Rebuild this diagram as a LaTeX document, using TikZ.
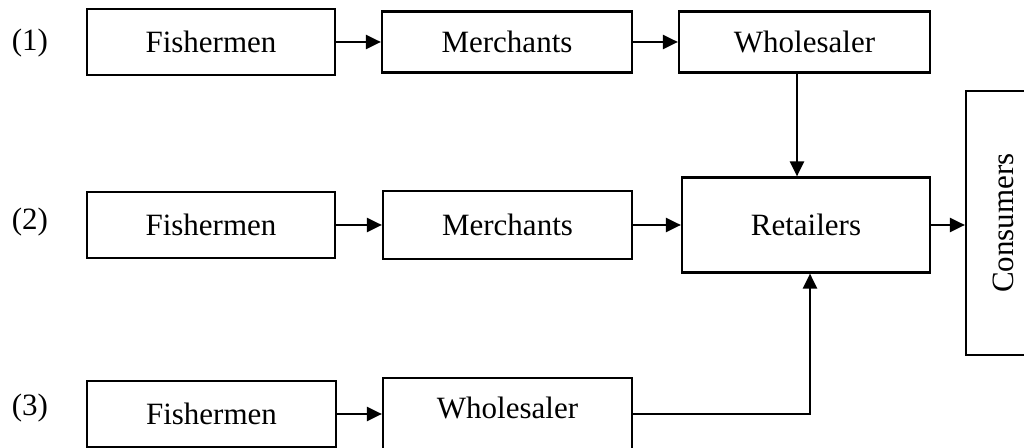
\documentclass[tikz,border=0pt]{standalone}
\usepackage{fontspec}
\setmainfont{Liberation Serif}
\usetikzlibrary{arrows.meta}

\begin{document}
\begin{tikzpicture}[x=0.5pt, y=-0.5pt,
    font=\fontsize{15.5}{18}\selectfont,
    box/.style={draw, line width=1.1pt, inner sep=0pt},
    arr/.style={line width=1.2pt, -{Triangle[length=7.5pt, width=7pt]}}]
      \clip (0,0) rectangle (1024,448);
      % row (1)
      \node (L1) at (30,43) {(1)};
      \node (F1) at (211,42) [box, minimum width=124pt, minimum height=33pt] {Fishermen};
      \node (M1) at (507,42) [box, minimum width=125pt, minimum height=30.5pt] {Merchants};
      \node (W1) at (804.5,42) [box, minimum width=125.5pt, minimum height=30.5pt] {Wholesaler};
      % row (2)
      \node (L2) at (30,222) {(2)};
      \node (F2) at (211,225) [box, minimum width=124pt, minimum height=33pt] {Fishermen};
      \node (M2) at (507.5,225) [box, minimum width=124.5pt, minimum height=34pt] {Merchants};
      \node (R) at (806,225) [box, minimum width=124pt, minimum height=47.5pt] {Retailers};
      \node (C) at (1003,223) [box, minimum width=37pt, minimum height=132pt] {};
      \node (CT) at (C.center) [rotate=90] {Consumers};
      % row (3)
      \node (L3) at (30,408) {(3)};
      \node (F3) at (211.5,414) [box, minimum width=124.5pt, minimum height=33pt] {Fishermen};
      \node (W3) at (507.5,377) [box, anchor=north, minimum width=124.5pt, inner ysep=0pt,
        text height=20pt, text depth=25pt] {Wholesaler};
      % flows
      \draw[arr] (F1) to (M1);
      \draw[arr] (M1) to (W1);
      \draw[arr] ([xshift=-3.75pt]W1.south) to ([xshift=-3.75pt]W1.south |- R.north);
      \draw[arr] (F2) to (M2);
      \draw[arr] (M2) to (R);
      \draw[arr] (R.east) to (R.east -| C.west);
      \draw[arr] (F3.east) to (F3.east -| W3.west);
      \draw[arr] (F3.east -| W3.east) -| ([xshift=2pt]R.south);
    \end{tikzpicture}
\end{document}
